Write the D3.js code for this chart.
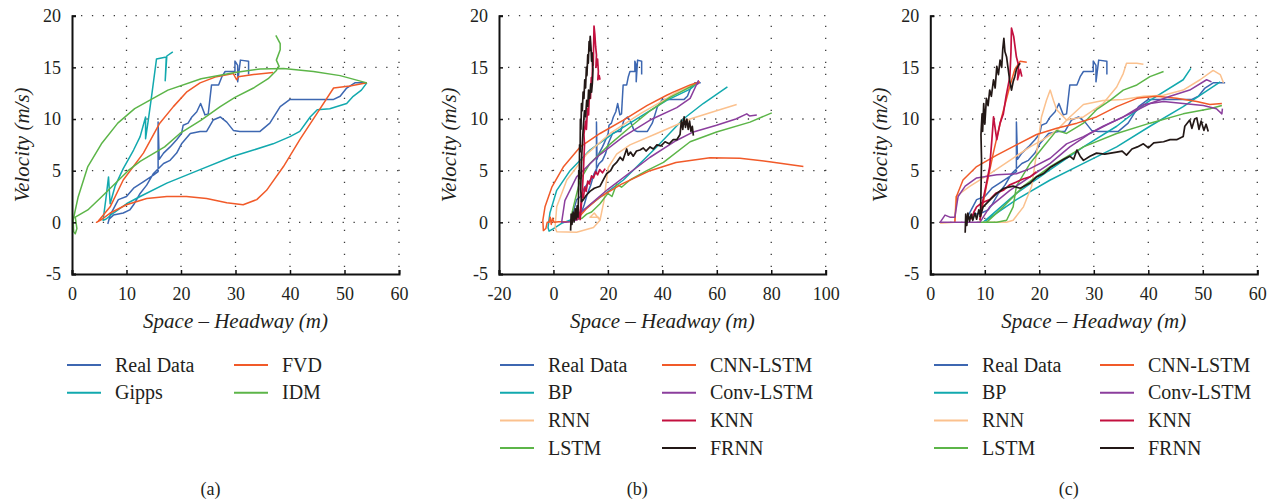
<!DOCTYPE html>
<html>
<head>
<meta charset="utf-8">
<script src="https://cdn.jsdelivr.net/npm/d3@7"></script>
<style>
body { margin: 0; background: #fff; }
svg text { font-family: "Liberation Serif", "Times New Roman", Times, "DejaVu Serif", serif; fill: #231f20; }
</style>
</head>
<body>
<svg id="chart" width="1276" height="502" font-family="Liberation Serif, serif"></svg>
<script>
// tick labels
var yTicks = [-5, 0, 5, 10, 15, 20];
var xTicksA = [0, 10, 20, 30, 40, 50, 60];
var xTicksB = [-20, 0, 20, 40, 60, 80, 100];
var xTicksC = [0, 10, 20, 30, 40, 50, 60];

// real vehicle trajectory (same in all three panels), [headway, velocity]
var realData = [[32.4,14.3],[32.4,15.6],[30.9,15.7],[30.4,13.6],[30.4,15.2],[29.9,15.6],[29.9,14.6],[28.1,14.6],[27.5,14.1],[26.9,13.3],[25.6,13.3],[25.0,10.5],[24.4,10.4],[23.6,11.5],[22.9,10.7],[22.0,10.2],[21.3,9.6],[20.4,9.4],[20.1,8.6],[19.2,8.0],[18.0,7.3],[16.8,6.7],[16.0,6.1],[15.8,9.7],[15.8,4.9],[15.0,4.6],[13.0,3.9],[11.3,3.3],[10.0,2.5],[8.5,2.2],[7.0,0.7],[6.6,-0.1],[6.8,0.3],[7.6,0.7],[9.4,0.9],[10.6,1.2],[11.3,1.7],[12.5,2.8],[13.7,3.6],[14.9,4.7],[16.8,5.7],[18.0,6.0],[19.2,6.7],[20.1,7.6],[21.7,8.6],[23.5,8.8],[24.7,8.8],[25.9,9.9],[27.2,10.2],[28.4,9.7],[29.6,8.9],[30.8,8.8],[34.5,8.8],[36.3,9.6],[38.2,11.2],[40.0,11.9],[48.0,11.9],[49.2,12.2],[50.4,13.0],[51.9,13.5],[54.1,13.5]];

// panel (a) car-following models
var gippsA = [[18.5,16.5],[17.4,16.1],[17.1,13.7],[17.3,16.0],[15.5,15.8],[14.6,12.2],[14.0,9.9],[13.5,8.1],[13.5,10.2],[12.5,8.3],[11.3,7.0],[9.4,5.2],[7.9,3.5],[7.0,1.8],[6.7,4.4],[6.2,2.2],[5.7,0.2],[6.2,0.3],[7.6,0.9],[10.0,1.8],[12.5,2.5],[17.4,3.8],[23.5,5.1],[29.6,6.4],[33.3,7.0],[36.9,7.6],[40.0,8.3],[41.8,8.8],[43.7,10.2],[45.0,10.9],[47.3,11.0],[50.4,11.5],[51.6,12.2],[53.1,12.8],[54.1,13.5]];
var fvdA = [[36.9,14.5],[33.3,14.3],[30.5,14.1],[30.2,13.8],[29.6,14.4],[26.5,14.1],[23.5,13.5],[21.0,12.6],[18.6,11.2],[16.1,9.6],[13.1,6.7],[9.4,4.1],[7.0,1.5],[4.8,0.1],[4.5,0.0],[5.5,0.3],[7.0,0.9],[10.0,1.7],[13.7,2.3],[17.4,2.5],[21.0,2.5],[24.7,2.3],[28.4,1.9],[31.4,1.7],[33.9,2.2],[35.7,3.1],[38.8,5.4],[41.8,8.0],[44.9,10.5],[48.0,13.0],[51.0,13.2],[54.1,13.5]];
var idmA = [[37.4,18.1],[38.2,17.3],[38.2,16.7],[37.5,15.7],[38.0,15.1],[37.5,14.7],[36.0,13.9],[33.3,13.0],[29.9,12.1],[27.2,11.2],[23.7,9.9],[19.8,8.6],[17.0,7.3],[12.5,5.9],[10.3,5.0],[5.4,2.45],[2.9,1.2],[0.6,0.5],[0.9,-0.6],[0.6,-1.1],[0.3,-0.9],[0.2,0.2],[1.1,2.4],[2.9,5.4],[5.4,7.6],[8.4,9.6],[11.5,11.0],[17.6,12.8],[23.7,13.9],[29.9,14.5],[34.5,14.85],[38.8,14.9],[44.3,14.6],[49.2,14.2],[54.1,13.5]];

// panel (b) deep learning models
var bpB = [[53.0,13.5],[50.2,12.9],[41.6,11.8],[31.8,10.2],[22.0,8.6],[13.4,7.0],[6.1,5.0],[1.2,3.1],[-1.3,0.9],[-2.0,-0.5],[-1.6,-0.85],[0.0,-0.6],[3.0,-0.1],[6.0,0.2],[9.8,0.9],[15.0,2.0],[25.7,4.1],[37.9,7.3],[47.7,10.0],[55.0,11.5],[63.9,13.1]];
var rnnB = [[53.2,13.5],[46.5,12.8],[40.4,11.8],[31.8,10.5],[20.8,8.6],[12.2,6.6],[4.9,4.1],[1.2,1.5],[0.6,-0.45],[1.2,-0.9],[8.5,-0.95],[14.7,-0.5],[17.1,0.2],[16.5,0.5],[13.4,0.5],[15.0,0.9],[17.1,0.2],[18.5,2.0],[19.2,3.5],[20.1,5.3],[23.2,6.6],[28.1,7.5],[37.9,8.6],[50.2,10.0],[58.7,10.7],[67.3,11.4]];
var lstmB = [[53.5,13.6],[50.2,13.1],[42.8,12.1],[35.5,10.8],[28.1,9.2],[19.6,7.3],[13.4,5.7],[9.8,4.1],[7.8,2.0],[6.7,0.8],[7.5,0.2],[9.0,0.3],[10.5,0.4],[12.2,0.8],[14.0,1.0],[17.1,1.8],[20.0,2.8],[21.5,2.5],[23.2,3.7],[25.0,3.4],[28.1,4.1],[34.3,5.0],[40.4,5.8],[50.2,7.8],[59.9,8.75],[72.2,9.7],[80.2,10.6]];
var cnnB = [[53.8,13.6],[50.2,13.3],[44.0,12.6],[41.6,12.3],[34.3,11.3],[25.7,9.9],[17.1,8.6],[9.8,7.3],[3.6,5.35],[-0.6,3.4],[-3.1,1.5],[-3.9,0.2],[-3.7,-0.8],[-2.8,-0.6],[-2.3,0.0],[-1.6,0.0],[-1.2,0.5],[-0.8,-0.2],[-0.3,0.4],[0.2,0.0],[2.0,0.05],[6.1,0.05],[9.0,0.4],[12.0,1.3],[17.1,2.45],[25.0,3.7],[35.5,5.0],[45.0,5.8],[57.5,6.25],[68.5,6.2],[80.0,5.85],[91.8,5.4]];
var convB = [[53.5,13.5],[52.5,13.3],[53.2,13.7],[50.2,12.0],[45.3,11.1],[35.5,9.9],[25.7,8.3],[15.9,6.3],[8.5,4.4],[4.2,2.1],[3.0,0.0],[4.5,0.0],[7.0,0.1],[9.0,0.3],[9.8,0.9],[20.0,3.2],[35.5,6.3],[45.0,7.9],[51.4,8.75],[59.9,9.4],[67.0,10.0],[71.0,10.5],[72.0,10.3],[74.7,10.4]];
var knnB1 = [[9.8,0.2],[10.5,2.5],[11.0,5.0],[11.4,7.5],[11.2,8.5],[11.8,9.8],[12.1,9.0],[12.5,11.0],[12.9,10.4],[13.2,12.5],[13.6,12.0],[13.9,14.0],[14.2,13.4],[14.4,15.8],[14.6,15.2],[14.8,17.5],[14.9,19.0],[15.2,18.2],[15.5,17.0],[15.8,16.2],[15.6,15.0],[16.2,15.8],[16.5,14.6],[16.3,13.8],[16.8,14.2],[17.1,13.8]];
var knnB2 = [[8.5,0.2],[9.0,1.0],[9.5,0.4],[10.0,1.5],[10.5,2.8],[11.0,2.4],[11.5,3.4],[12.0,3.0],[12.6,4.0],[13.2,3.7],[14.0,4.5],[14.7,4.3],[15.5,4.9],[16.2,4.6],[17.0,5.1],[18.0,4.8],[19.0,5.2]];
var frnnB = [[6.3,-0.8],[6.5,0.8],[6.8,-0.2],[7.2,1.0],[7.6,0.1],[8.0,1.3],[8.3,0.3],[8.7,1.6],[9.0,0.5],[9.2,2.5],[9.3,5.0],[9.5,4.2],[9.6,7.5],[9.8,6.8],[9.9,10.0],[10.1,9.0],[10.3,11.5],[10.6,10.8],[10.9,12.6],[11.2,12.0],[11.5,13.8],[11.8,13.0],[12.1,15.0],[12.3,14.2],[12.6,16.2],[12.8,15.4],[13.1,17.5],[13.3,16.6],[13.5,18.0],[13.8,16.9],[14.0,15.6],[14.2,16.4],[14.5,14.8],[14.3,13.5],[14.0,12.6],[13.7,13.4],[13.3,12.0],[12.9,12.8],[12.6,11.2],[12.2,11.8],[11.8,10.2],[11.4,10.8],[11.0,9.4],[10.7,8.0],[10.4,6.5],[10.2,4.8],[10.0,3.2],[10.3,2.0],[11.0,2.2],[12.0,2.6],[13.4,3.0],[15.0,3.3],[17.1,3.5],[18.5,4.2],[19.5,4.7],[21.0,5.0],[22.0,5.5],[23.2,5.8],[24.5,6.3],[25.5,6.0],[26.9,7.1],[27.5,6.5],[28.3,6.8],[29.3,6.4],[30.5,6.9],[31.8,7.0],[33.0,7.2],[34.0,6.9],[35.5,7.3],[36.7,7.1],[38.0,7.5],[39.5,7.4],[41.0,7.8],[42.5,7.6],[44.0,8.0],[45.3,8.0],[46.5,8.5],[47.0,9.9],[47.5,9.0],[48.0,10.2],[48.5,9.2],[49.0,10.0],[49.5,9.0],[50.0,9.8],[50.5,8.8],[51.0,9.3],[51.4,8.4]];

// panel (c) deep learning models, second test case
var bpC1 = [[9.7,0.0],[15.8,2.8],[22.0,5.1],[28.1,7.3],[34.2,9.3],[40.3,11.8],[46.4,13.8],[47.8,14.9]];
var bpC2 = [[9.7,0.0],[15.8,2.2],[22.0,4.1],[28.1,5.7],[34.2,7.3],[40.3,9.3],[46.4,11.2],[50.1,12.5],[53.2,13.6]];
var rnnC1 = [[1.8,-0.1],[4.5,0.0],[4.7,2.5],[7.3,3.5],[10.9,4.7],[14.6,6.0],[18.3,7.3],[20.7,8.0],[23.2,8.9],[25.6,10.2],[28.1,11.4],[31.7,11.8],[35.4,11.9],[39.1,12.2],[42.8,12.3],[46.4,12.8],[49.5,13.8],[51.9,14.7],[53.2,14.3],[53.8,13.5]];
var rnnC2 = [[9.7,0.0],[14.0,0.0],[15.2,0.2],[17.1,1.5],[18.6,3.5],[19.5,6.7],[20.4,10.2],[21.3,11.8],[22.0,12.8],[22.6,11.8],[23.2,10.9],[25.0,9.9],[28.1,10.2],[31.7,11.5],[34.2,13.1],[35.4,14.4],[36.0,15.4],[37.9,15.4],[39.1,15.3]];
var lstmC1 = [[8.5,0.0],[12.2,0.0],[14.0,0.2],[15.2,1.5],[15.8,3.5],[18.3,5.7],[20.7,7.3],[23.2,8.9],[25.0,8.6],[28.1,9.6],[30.5,10.9],[33.0,11.8],[35.4,12.8],[37.9,13.3],[40.3,14.1],[42.8,14.6]];
var lstmC2 = [[10.3,0.0],[13.4,1.5],[17.1,3.5],[22.0,5.4],[28.1,7.3],[34.2,8.6],[40.3,9.6],[46.4,10.5],[51.3,11.0],[53.5,11.3]];
var cnnC1 = [[4.5,0.0],[4.8,2.5],[6.0,4.1],[8.5,5.4],[12.2,6.5],[15.8,7.5],[19.5,8.5],[23.2,9.1],[26.9,9.6],[30.5,10.2],[34.2,11.2],[37.9,12.0],[41.5,12.2],[45.2,12.0],[48.9,11.7],[51.3,11.4],[53.5,11.5]];
var cnnC2 = [[9.1,0.2],[10.3,3.5],[11.6,6.8],[13.0,10.0],[14.5,13.0],[15.5,14.8],[16.5,15.6],[17.7,15.5]];
var convC1 = [[1.8,0.0],[2.7,0.7],[3.6,0.5],[4.5,0.5],[5.1,2.5],[6.4,3.5],[8.5,4.3],[12.2,4.6],[15.8,4.7],[18.3,5.2],[22.0,6.2],[25.0,7.6],[28.1,8.3],[31.7,9.3],[35.4,10.2],[39.1,11.4],[42.8,11.7],[46.4,11.5],[50.1,11.3],[52.5,11.0],[53.5,10.5],[53.6,11.0]];
var convC2 = [[1.8,0.0],[9.1,0.0],[10.9,1.5],[14.6,3.1],[18.3,4.4],[22.0,5.7],[25.6,7.3],[29.3,8.6],[33.0,9.6],[36.6,10.5],[40.3,11.5],[44.0,12.2],[47.6,12.8],[50.7,13.8],[51.6,13.6]];
var knnC1 = [[9.1,0.2],[9.6,2.0],[10.2,3.5],[10.9,5.4],[11.3,8.0],[11.6,10.2],[12.2,8.0],[12.8,9.6],[13.4,10.5],[13.9,12.2],[14.6,14.1],[14.8,16.5],[14.9,18.8],[15.3,18.0],[15.8,16.0],[16.2,15.2],[16.0,13.8],[16.5,14.8],[16.8,14.1]];
var knnC2 = [[7.5,0.3],[8.0,1.0],[8.5,1.5],[9.5,1.9],[10.9,2.2],[12.0,2.8],[13.4,3.1],[14.5,3.6],[15.8,3.9],[17.0,4.2],[18.3,4.4],[19.5,4.9]];
var frnnC1 = [[6.4,-1.0],[6.5,0.8],[6.7,-0.3],[6.9,0.9],[7.2,0.1],[7.5,0.8],[7.8,0.2],[8.2,0.9],[8.5,0.3],[8.9,1.2],[9.2,0.6],[9.3,3.0],[9.4,6.0],[9.3,8.5],[9.5,10.5],[9.6,8.8],[9.8,11.5],[10.0,9.5],[10.3,12.0],[10.6,11.3],[10.9,12.8],[11.2,12.2],[11.6,13.8],[11.9,13.0],[12.2,15.1],[12.5,14.3],[12.8,15.7],[13.1,15.0],[13.3,16.8],[13.5,17.8],[13.7,16.5],[14.0,16.0],[14.3,14.8],[14.6,13.6],[14.9,12.8],[15.2,13.6],[15.5,14.1],[15.8,14.8],[16.2,15.2],[16.5,15.4]];
var frnnC2 = [[9.1,0.5],[9.7,1.5],[11.0,2.2],[12.2,2.8],[13.5,3.3],[15.2,3.5],[16.5,3.3],[18.3,3.8],[19.5,4.4],[20.7,4.7],[22.0,5.3],[23.2,5.7],[24.5,6.1],[25.6,6.4],[26.3,6.1],[26.9,7.0],[27.5,6.4],[28.1,6.0],[29.3,6.4],[30.5,6.7],[32.0,6.6],[34.2,6.8],[35.2,6.9],[36.0,6.5],[37.0,7.1],[38.0,7.3],[39.1,7.6],[40.0,7.2],[41.0,7.7],[42.8,7.8],[44.0,8.0],[45.2,8.0],[46.4,8.3],[46.7,9.3],[47.6,9.9],[48.0,9.1],[48.5,10.0],[48.9,10.1],[49.3,9.0],[49.7,9.8],[50.2,8.9],[50.6,9.5],[51.0,8.8]];

var col = {
  real: "#3d67b1", teal: "#12a9ae", orange: "#f15a29", green: "#5cb548",
  rnn: "#fbc18e", purple: "#8b3e9d", knn: "#c3103f", frnn: "#231816"
};

var panels = [
  {
    left: 72, right: 399, domain: [0, 60], ticks: xTicksA, label: "(a)",
    series: [
      {name: "Real Data", color: col.real, parts: [realData]},
      {name: "Gipps", color: col.teal, parts: [gippsA]},
      {name: "FVD", color: col.orange, parts: [fvdA]},
      {name: "IDM", color: col.green, parts: [idmA]}
    ],
    legend: {c1: 67, c2: 234, names: [["Real Data", "Gipps"], ["FVD", "IDM"]]}
  },
  {
    left: 499, right: 825.7, domain: [-20, 100], ticks: xTicksB, label: "(b)",
    series: [
      {name: "Real Data", color: col.real, parts: [realData]},
      {name: "BP", color: col.teal, parts: [bpB]},
      {name: "RNN", color: col.rnn, parts: [rnnB]},
      {name: "LSTM", color: col.green, parts: [lstmB]},
      {name: "CNN-LSTM", color: col.orange, parts: [cnnB]},
      {name: "Conv-LSTM", color: col.purple, parts: [convB]},
      {name: "KNN", color: col.knn, parts: [knnB1, knnB2]},
      {name: "FRNN", color: col.frnn, parts: [frnnB]}
    ],
    legend: {c1: 500, c2: 662, names: [["Real Data", "BP", "RNN", "LSTM"], ["CNN-LSTM", "Conv-LSTM", "KNN", "FRNN"]]}
  },
  {
    left: 930.3, right: 1257.3, domain: [0, 60], ticks: xTicksC, label: "(c)",
    series: [
      {name: "Real Data", color: col.real, parts: [realData]},
      {name: "BP", color: col.teal, parts: [bpC1, bpC2]},
      {name: "RNN", color: col.rnn, parts: [rnnC1, rnnC2]},
      {name: "LSTM", color: col.green, parts: [lstmC1, lstmC2]},
      {name: "CNN-LSTM", color: col.orange, parts: [cnnC1, cnnC2]},
      {name: "Conv-LSTM", color: col.purple, parts: [convC1, convC2]},
      {name: "KNN", color: col.knn, parts: [knnC1, knnC2]},
      {name: "FRNN", color: col.frnn, parts: [frnnC1, frnnC2]}
    ],
    legend: {c1: 934, c2: 1100, names: [["Real Data", "BP", "RNN", "LSTM"], ["CNN-LSTM", "Conv-LSTM", "KNN", "FRNN"]]}
  }
];

var svg = d3.select("#chart");
var serif = "'Liberation Serif', 'Times New Roman', Times, 'DejaVu Serif', serif";
var plotTop = 15.7, plotBottom = 274;
var y = d3.scaleLinear().domain([-5, 20]).range([plotBottom, plotTop]);

panels.forEach(function(p) {
  var x = d3.scaleLinear().domain(p.domain).range([p.left, p.right]);
  var g = svg.append("g").style("font-family", serif);
  var colorOf = {};
  p.series.forEach(function(s) { colorOf[s.name] = s.color; });

  // dotted grid
  g.selectAll("line.hg").data(yTicks.filter(function(d) { return d > -5; }))
    .enter().append("line")
    .attr("x1", p.left).attr("x2", p.right)
    .attr("y1", function(d) { return y(d); }).attr("y2", function(d) { return y(d); })
    .attr("stroke", "#3a3a3a").attr("stroke-width", 1.3)
    .attr("stroke-dasharray", "1.3,9.6").attr("stroke-dashoffset", -9);
  g.selectAll("line.vg").data(p.ticks.slice(1))
    .enter().append("line")
    .attr("x1", function(d) { return x(d); }).attr("x2", function(d) { return x(d); })
    .attr("y1", plotTop).attr("y2", plotBottom)
    .attr("stroke", "#3a3a3a").attr("stroke-width", 1.3)
    .attr("stroke-dasharray", "1.3,10.7").attr("stroke-dashoffset", -10);

  // curves
  var line = d3.line().x(function(d) { return x(d[0]); }).y(function(d) { return y(d[1]); });
  p.series.forEach(function(s) {
    s.parts.forEach(function(pts) {
      g.append("path").attr("d", line(pts))
        .attr("fill", "none").attr("stroke", s.color)
        .attr("stroke-width", (s.name === "KNN" || s.name === "FRNN") ? 1.7 : 1.5)
        .attr("stroke-linejoin", "round");
    });
  });

  // axes
  var fmt = function(d) { return d < 0 ? "-" + Math.abs(d) : d; };
  var yAxis = d3.axisLeft(y).tickValues(yTicks).tickSize(-4).tickPadding(11).tickFormat(fmt);
  var xAxis = d3.axisBottom(x).tickValues(p.ticks).tickSize(-4).tickPadding(13).tickFormat(fmt);
  var ya = g.append("g").attr("transform", "translate(" + p.left + ",0)").call(yAxis);
  var xa = g.append("g").attr("transform", "translate(0," + plotBottom + ")").call(xAxis);
  [ya, xa].forEach(function(a) {
    a.attr("font-family", null);
    a.select(".domain").attr("stroke", "#111").attr("stroke-width", 2);
    a.selectAll(".tick line").attr("stroke", "#111").attr("stroke-width", 1.5);
    a.selectAll("text").attr("font-size", 18).style("font-family", serif).attr("fill", "#231f20");
  });

  // titles
  g.append("text").attr("x", (p.left + p.right) / 2).attr("y", 328)
    .attr("text-anchor", "middle").attr("font-size", 21).attr("font-style", "italic")
    .style("font-family", serif)
    .text("Space \u2013 Headway (m)");
  g.append("text")
    .attr("transform", "translate(" + (p.left - 43) + "," + ((plotTop + plotBottom) / 2) + ") rotate(-90)")
    .attr("text-anchor", "middle").attr("font-size", 21).attr("font-style", "italic")
    .style("font-family", serif)
    .text("Velocity (m/s)");

  // legend
  [p.legend.c1, p.legend.c2].forEach(function(cx, ci) {
    p.legend.names[ci].forEach(function(name, ri) {
      var ry = 365 + ri * 27.7;
      g.append("line").attr("x1", cx).attr("x2", cx + 34).attr("y1", ry).attr("y2", ry)
        .attr("stroke", colorOf[name]).attr("stroke-width", 2);
      g.append("text").attr("x", cx + 48).attr("y", ry + 6.5)
        .attr("font-size", 20).style("font-family", serif).text(name);
    });
  });

  g.append("text").attr("x", (p.left + p.right) / 2 - 25).attr("y", 495)
    .attr("text-anchor", "middle").attr("font-size", 18).style("font-family", serif).text(p.label);
});
</script>
</body>
</html>
